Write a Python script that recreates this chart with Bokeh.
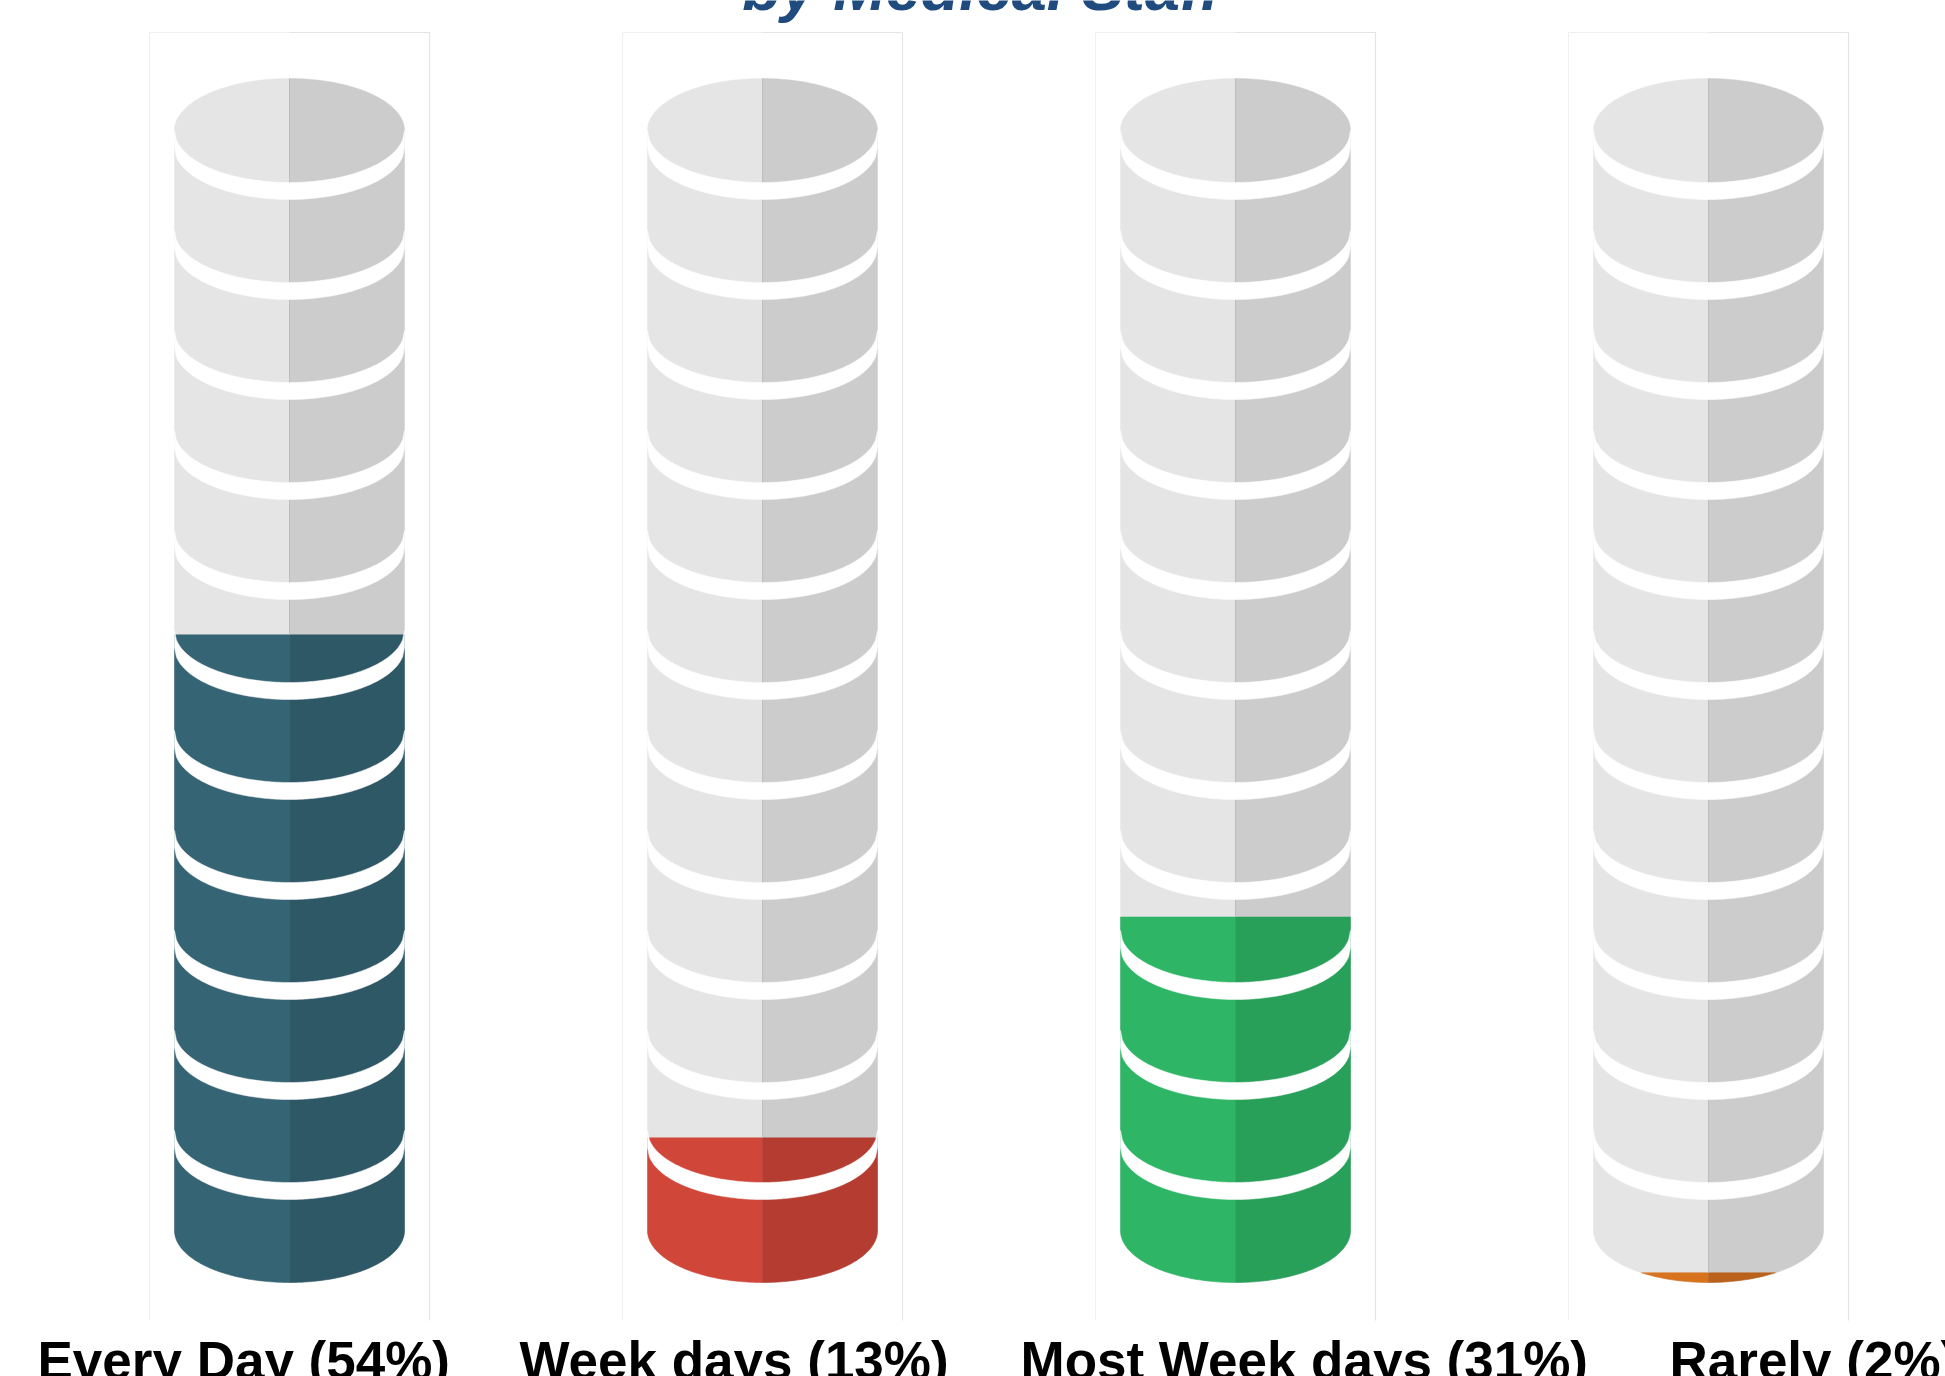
import numpy as np
from bokeh.plotting import figure
from bokeh.models import Range1d
from bokeh.embed import file_html
from bokeh.resources import INLINE
from bokeh.core.properties import value

# ---------------- data ----------------
categories = ["Every Day", "Week days", "Most Week days", "Rarely"]
percentages = [54, 13, 31, 2]
title_text = "by Medical Staff"
labels = [f"{c} ({v}%)" for c, v in zip(categories, percentages)]

colors_light = ["#356574", "#d0473a", "#2eb566", "#d7731f"]
colors_dark = ["#2f5866", "#b53c30", "#28a05a", "#ba621b"]
gray_light, gray_dark = "#e5e5e5", "#cccccc"

# ---------------- layout (screen px) ----------------
W, H = 1945, 1376
PX0, DX = 289.0, 473.0          # first cylinder centre, spacing
Y0, PXPCT = 1296.8, 12.268      # screen y of 0 %, px per percent
label_left_px = [37, 519, 1020, 1669]


def sx(px):
    return (px - PX0) / DX


def sy(py):
    return (Y0 - py) / PXPCT


p = figure(width=W, height=H, output_backend="svg", toolbar_location=None,
           x_range=Range1d(sx(0), sx(W)), y_range=Range1d(sy(H), sy(0)),
           min_border=0, outline_line_color=None)
p.axis.visible = False
p.grid.visible = False
p.background_fill_color = "white"
p.border_fill_color = "white"

half_w = 115 / DX
ell = 52 / PXPCT
top_c = sy(130)
bot_c = sy(1230)
tier = 100 / PXPCT
band = 17 / PXPCT
n_bands = 11
pan_hw = 140 / DX
pan_top, pan_bot = sy(32), sy(1320)

t = np.linspace(0, np.pi / 2, 60)


def half_shape(c, sign):
    xs = list(c + sign * half_w * np.sin(t)) + list(c + sign * half_w * np.cos(t))
    ys = list(top_c + ell * np.cos(t)) + list(bot_c - ell * np.sin(t))
    return xs, ys


def clip_below(xs, ys, level):
    ox, oy = [], []
    n = len(xs)
    for i in range(n):
        x1, y1 = xs[i], ys[i]
        x2, y2 = xs[(i + 1) % n], ys[(i + 1) % n]
        in1, in2 = y1 <= level, y2 <= level
        if in1:
            ox.append(x1); oy.append(y1)
        if in1 != in2:
            k = (level - y1) / (y2 - y1)
            ox.append(x1 + k * (x2 - x1)); oy.append(level)
    return ox, oy


# panels
pxs, pys, pcs = [], [], []
for i in range(len(categories)):
    l, r = i - pan_hw, i + pan_hw
    pxs += [[l, l, i], [i, r, r]]
    pys += [[pan_bot, pan_top, pan_top], [pan_top, pan_top, pan_bot]]
    pcs += ["#f0f0f0", "#e4e4e4"]
p.multi_line(pxs, pys, line_color=pcs, line_width=1.2)

gxs, gys, gcs = [], [], []
fxs, fys, fcs = [], [], []
bxs, bys = [], []
lxs, lys = [], []
u = np.linspace(-1, 1, 121)
for i, pct in enumerate(percentages):
    for sign, gcol, fcol in [(-1, gray_light, colors_light[i]), (1, gray_dark, colors_dark[i])]:
        xs, ys = half_shape(i, sign)
        gxs.append(xs); gys.append(ys); gcs.append(gcol)
        cx, cy = clip_below(xs, ys, pct)
        if cx:
            fxs.append(cx); fys.append(cy); fcs.append(fcol)
    lxs.append([i, i]); lys.append([max(pct, bot_c - ell), top_c + ell])
    for k in range(n_bands):
        c = top_c - k * tier
        hx = i + u * half_w
        hh = ell * np.sqrt(np.clip(1 - u ** 2, 0, 1))
        bxs.append(list(hx) + list(hx[::-1]))
        bys.append(list(c - hh) + list((c - band - hh)[::-1]))

p.patches(gxs, gys, fill_color=gcs, line_color=gcs, line_width=0.5)
p.patches(fxs, fys, fill_color=fcs, line_color=fcs, line_width=0.5)
p.multi_line(lxs, lys, line_color="#bdbdbd", line_width=1)
p.patches(bxs, bys, fill_color="white", line_color="white", line_width=0.5)

# labels
p.text(x=[sx(v) for v in label_left_px], y=[sy(1360)] * len(labels), text=labels,
       text_font=value("Liberation Sans"), text_font_style="bold",
       text_font_size="53px", text_color="black",
       text_align="left", text_baseline="alphabetic")

# title (cut at top)
p.text(x=[sx(981)], y=[sy(-13)], text=[title_text],
       text_font=value("Liberation Sans"), text_font_style="bold italic",
       text_font_size="63px", text_color="#1f4b7f",
       text_align="center", text_baseline="alphabetic")

open("out.html", "w").write(file_html(p, INLINE))
